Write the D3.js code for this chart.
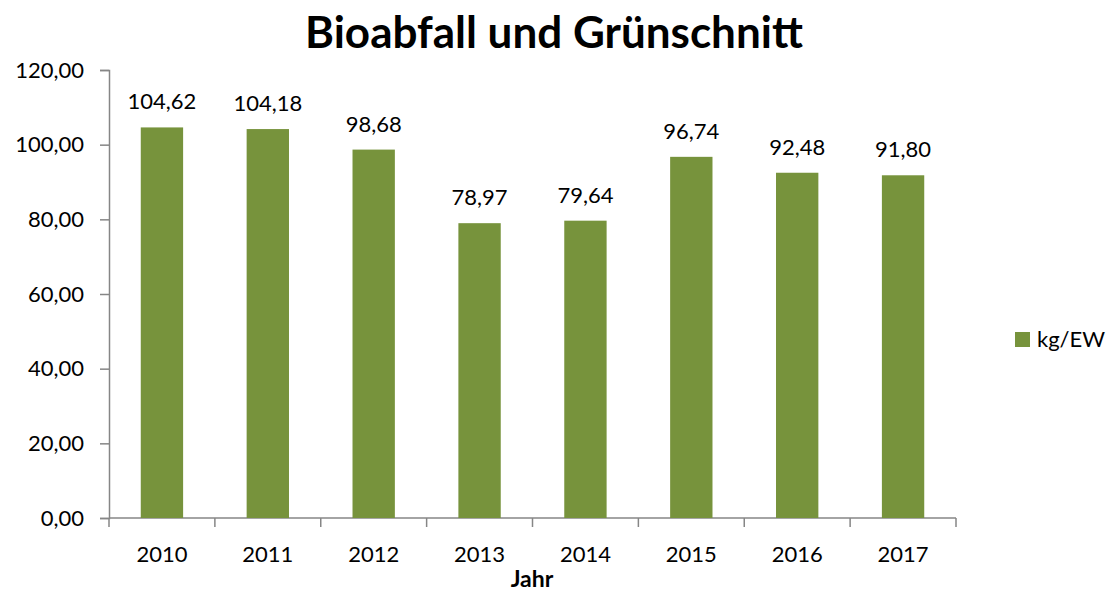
<!DOCTYPE html>
<html>
<head>
<meta charset="utf-8">
<script src="https://cdn.jsdelivr.net/npm/d3@7"></script>
<style>
  body { margin: 0; background: #fff; }
  text { font-family: Lato, "Open Sans", sans-serif; fill: #000; }
</style>
</head>
<body>
<script>
var years = ["2010", "2011", "2012", "2013", "2014", "2015", "2016", "2017"];
var values = [104.62, 104.18, 98.68, 78.97, 79.64, 96.74, 92.48, 91.80];
var yTicks = [0, 20, 40, 60, 80, 100, 120];
var seriesName = "kg/EW";

var svgWidth = 1109;
var svgHeight = 591;
var margin = { top: 70, right: 153, bottom: 73, left: 109 };
var width = svgWidth - margin.left - margin.right;
var height = svgHeight - margin.top - margin.bottom;

var fmt = function(v) { return v.toFixed(2).replace(".", ","); };
var barColor = "#77933C";
var axisColor = "#868686";

var svg = d3.select("body").append("svg")
    .attr("width", svgWidth)
    .attr("height", svgHeight);

svg.append("text")
    .attr("x", 554)
    .attr("y", 48)
    .attr("text-anchor", "middle")
    .style("font-size", "44px")
    .style("font-weight", "bold")
    .text("Bioabfall und Grünschnitt");

var chartGroup = svg.append("g")
    .attr("transform", `translate(${margin.left}, ${margin.top})`);

var x = d3.scaleBand()
    .domain(years)
    .range([0, width])
    .padding(0);

var y = d3.scaleLinear()
    .domain([0, 120])
    .range([height, 0]);

var barW = x.bandwidth() * 0.4;

// y axis
var leftAxis = d3.axisLeft(y)
    .tickValues(yTicks)
    .tickFormat(fmt)
    .tickSize(9)
    .tickPadding(16);
var gy = chartGroup.append("g").call(leftAxis);
gy.select(".domain").attr("stroke", axisColor).attr("stroke-width", 1.5);
gy.selectAll(".tick line").attr("stroke", axisColor).attr("stroke-width", 1.5);
gy.selectAll(".tick text").style("font-size", "22px");

// x axis with ticks at category boundaries
var gx = chartGroup.append("g")
    .attr("transform", `translate(0, ${height})`);
gx.append("line")
    .attr("x1", 0).attr("x2", width)
    .attr("y1", 0).attr("y2", 0)
    .attr("stroke", axisColor).attr("stroke-width", 1.5);
var bounds = years.map(function(d) { return x(d); }).concat([width]);
gx.selectAll(".xtick").data(bounds).enter().append("line")
    .attr("x1", d => d).attr("x2", d => d)
    .attr("y1", 0).attr("y2", 9)
    .attr("stroke", axisColor).attr("stroke-width", 1.5);
gx.selectAll(".xlabel").data(years).enter().append("text")
    .attr("x", d => x(d) + x.bandwidth() / 2)
    .attr("y", 44)
    .attr("text-anchor", "middle")
    .style("font-size", "22px")
    .text(d => d);

// bars
chartGroup.selectAll(".bar").data(values).enter().append("rect")
    .attr("x", (d, i) => x(years[i]) + (x.bandwidth() - barW) / 2)
    .attr("y", d => y(d))
    .attr("width", barW)
    .attr("height", d => height - y(d))
    .attr("fill", barColor);

// data labels
chartGroup.selectAll(".lbl").data(values).enter().append("text")
    .attr("x", (d, i) => x(years[i]) + x.bandwidth() / 2)
    .attr("y", d => y(d) - 18)
    .attr("text-anchor", "middle")
    .style("font-size", "22px")
    .text(fmt);

// x axis title
svg.append("text")
    .attr("x", 532)
    .attr("y", 587)
    .attr("text-anchor", "middle")
    .style("font-size", "23px")
    .style("font-weight", "bold")
    .text("Jahr");

// legend
var legend = svg.append("g").attr("transform", "translate(1015, 332)");
legend.append("rect")
    .attr("width", 15).attr("height", 15)
    .attr("fill", barColor);
legend.append("text")
    .attr("x", 22).attr("y", 15)
    .style("font-size", "22px")
    .text(seriesName);
</script>
</body>
</html>
